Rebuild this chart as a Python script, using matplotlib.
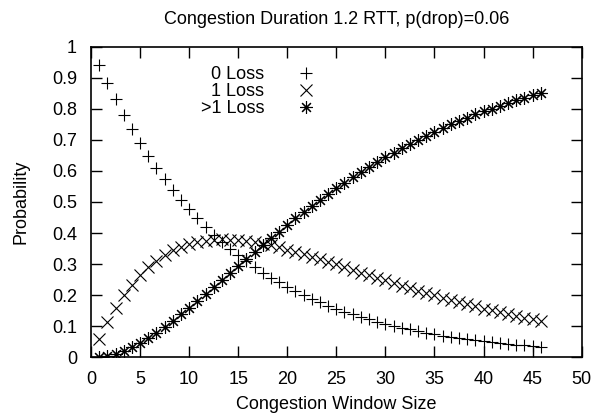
import matplotlib
matplotlib.use("Agg")
import matplotlib.pyplot as plt

plt.rcParams['font.family'] = ['Liberation Sans', 'DejaVu Sans']

title = "Congestion Duration 1.2 RTT, p(drop)=0.06"
xlabel = "Congestion Window Size"
ylabel = "Probability"
labels = ["0 Loss", "1 Loss", ">1 Loss"]

window = [0.83, 1.67, 2.50, 3.33, 4.17, 5.00, 5.83, 6.67, 7.50, 8.33,
          9.17, 10.00, 10.83, 11.67, 12.50, 13.33, 14.17, 15.00, 15.83, 16.67,
          17.50, 18.33, 19.17, 20.00, 20.83, 21.67, 22.50, 23.33, 24.17, 25.00,
          25.83, 26.67, 27.50, 28.33, 29.17, 30.00, 30.83, 31.67, 32.50, 33.33,
          34.17, 35.00, 35.83, 36.67, 37.50, 38.33, 39.17, 40.00, 40.83, 41.67,
          42.50, 43.33, 44.17, 45.00, 45.83]

loss0 = [0.940, 0.884, 0.831, 0.781, 0.734, 0.690, 0.649, 0.610, 0.573, 0.539,
         0.506, 0.476, 0.447, 0.421, 0.395, 0.372, 0.349, 0.328, 0.309, 0.290,
         0.273, 0.256, 0.241, 0.227, 0.213, 0.200, 0.188, 0.177, 0.166, 0.156,
         0.147, 0.138, 0.130, 0.122, 0.115, 0.108, 0.101, 0.095, 0.090, 0.084,
         0.079, 0.074, 0.070, 0.066, 0.062, 0.058, 0.055, 0.051, 0.048, 0.045,
         0.043, 0.040, 0.038, 0.035, 0.033]

loss1 = [0.060, 0.113, 0.159, 0.199, 0.234, 0.264, 0.290, 0.311, 0.329, 0.344,
         0.356, 0.365, 0.371, 0.376, 0.379, 0.380, 0.379, 0.377, 0.374, 0.370,
         0.366, 0.360, 0.354, 0.347, 0.340, 0.332, 0.324, 0.316, 0.308, 0.299,
         0.291, 0.282, 0.273, 0.265, 0.256, 0.248, 0.239, 0.231, 0.223, 0.215,
         0.207, 0.199, 0.192, 0.185, 0.177, 0.171, 0.164, 0.157, 0.151, 0.145,
         0.139, 0.133, 0.127, 0.122, 0.117]

lossmore = [0.000, 0.004, 0.010, 0.020, 0.032, 0.046, 0.062, 0.079, 0.098, 0.118,
            0.138, 0.160, 0.181, 0.204, 0.226, 0.249, 0.272, 0.295, 0.317, 0.340,
            0.362, 0.384, 0.405, 0.427, 0.447, 0.468, 0.488, 0.507, 0.526, 0.544,
            0.562, 0.580, 0.597, 0.613, 0.629, 0.644, 0.659, 0.674, 0.687, 0.701,
            0.714, 0.726, 0.738, 0.750, 0.761, 0.771, 0.782, 0.792, 0.801, 0.810,
            0.819, 0.827, 0.835, 0.843, 0.850]

xticks = [0, 5, 10, 15, 20, 25, 30, 35, 40, 45, 50]
yticks = [0, 0.1, 0.2, 0.3, 0.4, 0.5, 0.6, 0.7, 0.8, 0.9, 1]
yticklabels = ["0", "0.1", "0.2", "0.3", "0.4", "0.5", "0.6", "0.7", "0.8", "0.9", "1"]

FS = 13
fig = plt.figure(figsize=(5.98, 4.18), dpi=100)
ax = fig.add_axes([91/598, 1-357.3/418, (581.7-91)/598, (357.3-46.7)/418])

ax.plot(window, loss0, linestyle='none', marker='+', color='black', markersize=9, mew=0.8, label=labels[0])
ax.plot(window, loss1, linestyle='none', marker='x', color='black', markersize=8, mew=0.8, label=labels[1])
ax.plot(window, lossmore, linestyle='none', marker=(8, 2, 0), color='black', markersize=9, mew=0.8, label=labels[2])

ax.set_xlim(0, 50)
ax.set_ylim(0, 1)
ax.set_xticks(xticks)
ax.set_xticklabels([str(t) for t in xticks])
ax.set_yticks(yticks)
ax.set_yticklabels(yticklabels)
ax.tick_params(direction='in', length=8, width=1, top=True, right=True, labelsize=FS)
ax.tick_params(axis='x', pad=10)
ax.tick_params(axis='y', pad=10)
for s in ax.spines.values():
    s.set_linewidth(1.2)

ax.set_title(title, fontsize=FS, pad=16)
ax.set_xlabel(xlabel, fontsize=FS, va='top')
ax.xaxis.set_label_coords(0.5, -0.125)
ax.set_ylabel(ylabel, fontsize=FS)
ax.yaxis.set_label_coords(-0.125, 0.5)

leg = ax.legend(loc='center right', bbox_to_anchor=(0.4777, 0.855), markerfirst=False, frameon=False,
                fontsize=FS, handlelength=1.2, handletextpad=1.7, labelspacing=0.0, borderpad=0)

fig.savefig("out.png", dpi=100)
